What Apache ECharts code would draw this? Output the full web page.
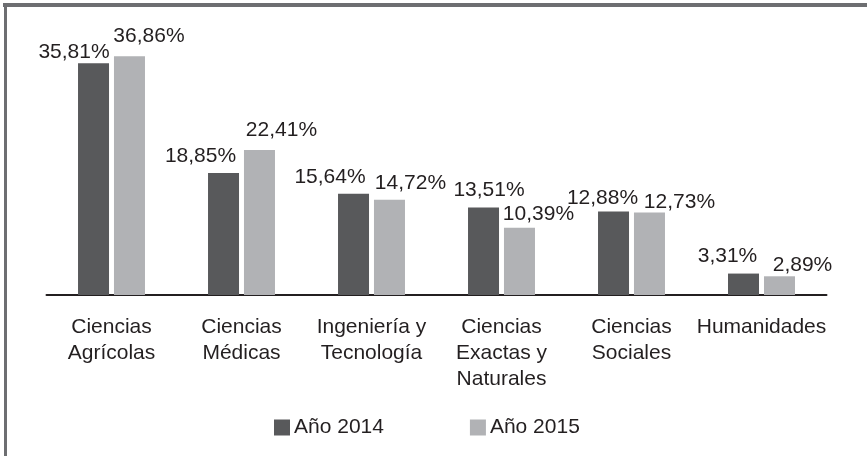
<!DOCTYPE html>
<html>
<head>
<meta charset="utf-8">
<script src="https://cdn.jsdelivr.net/npm/echarts@6/dist/echarts.min.js"></script>
<style>
html,body{margin:0;padding:0;background:#fff;}
#chart{width:867px;height:456px;}
</style>
</head>
<body>
<div id="chart"></div>
<script>
var categories = ["Ciencias\nAgrícolas", "Ciencias\nMédicas", "Ingeniería y\nTecnología", "Ciencias\nExactas y\nNaturales", "Ciencias\nSociales", "Humanidades"];
var seriesNames = ["Año 2014", "Año 2015"];
var values2014 = [35.81, 18.85, 15.64, 13.51, 12.88, 3.31];
var values2015 = [36.86, 22.41, 14.72, 10.39, 12.73, 2.89];

// label placement tweaks (style only), as in the original manually-placed labels
var labelOffsets2014 = [[-19.5, 0], [-23, -6], [-23.5, -6], [5.5, -7], [-11, -3], [-16, -7]];
var labelOffsets2015 = [[19.5, -10], [22, -9], [21, -6], [19, -3], [30, 0], [23, -1]];

var chart = echarts.init(document.getElementById('chart'));
var font = 'Liberation Sans, Arial, sans-serif';
function fmt(p){ return p.value.toFixed(2).replace('.', ',') + '%'; }

function buildData(vals, offs){
  return vals.map(function(v, i){
    return { value: v, label: { offset: offs[i] } };
  });
}

chart.setOption({
  animation: false,
  backgroundColor: '#ffffff',
  textStyle: { fontFamily: font, color: '#231f20' },
  graphic: [
    { type: 'rect', shape: { x: 3, y: 3, width: 864, height: 4 }, style: { fill: '#6d6e71' } },
    { type: 'rect', shape: { x: 4, y: 3, width: 3, height: 453 }, style: { fill: '#6d6e71' } }
  ],
  legend: {
    left: 269, top: 412,
    itemWidth: 16, itemHeight: 16, itemGap: 86,
    icon: 'rect',
    textStyle: { fontFamily: font, fontSize: 21, color: '#231f20', padding: [0,0,0,-1] },
    data: seriesNames
  },
  grid: { left: 46.5, right: 40.5, top: 36, bottom: 161 },
  xAxis: {
    type: 'category',
    data: categories,
    axisLine: { lineStyle: { color: '#231f20', width: 2 } },
    axisTick: { show: false },
    axisLabel: { fontFamily: font, fontSize: 21, color: '#231f20', lineHeight: 26, margin: 19, interval: 0 }
  },
  yAxis: {
    type: 'value', min: 0, max: 40,
    show: false, splitLine: { show: false }
  },
  series: [
    {
      name: seriesNames[0], type: 'bar', data: buildData(values2014, labelOffsets2014),
      barWidth: 31, barGap: '16%',
      itemStyle: { color: '#58595b' },
      label: { show: true, position: 'top', distance: 0, formatter: fmt,
               fontFamily: font, fontSize: 21, color: '#231f20' }
    },
    {
      name: seriesNames[1], type: 'bar', data: buildData(values2015, labelOffsets2015),
      barWidth: 31,
      itemStyle: { color: '#b1b2b5' },
      label: { show: true, position: 'top', distance: 0, formatter: fmt,
               fontFamily: font, fontSize: 21, color: '#231f20' }
    }
  ]
});
</script>
</body>
</html>
